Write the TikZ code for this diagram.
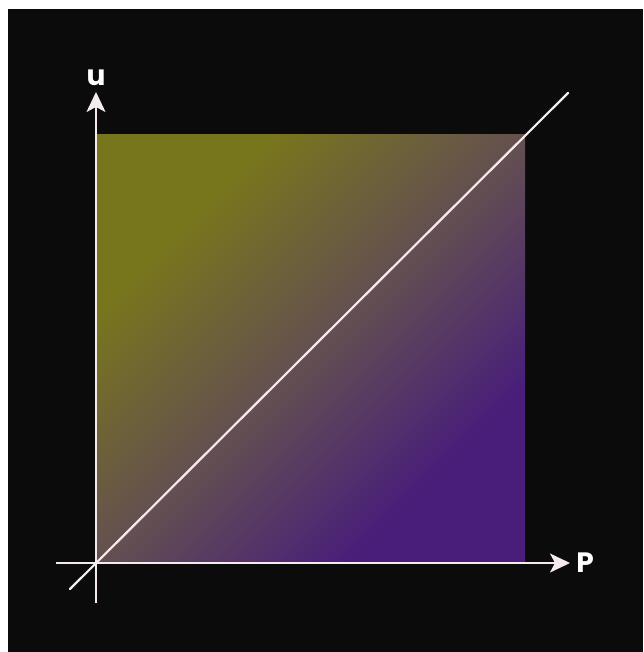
\documentclass[tikz,border=0pt]{standalone}
\usepackage{fontspec}
\setsansfont{Poppins}
\usetikzlibrary{arrows.meta,shadings}
\definecolor{bgdark}{HTML}{0B0B0B}
\definecolor{olivec}{RGB}{120,118,28}
\definecolor{purplec}{RGB}{72,30,122}
\definecolor{midc}{RGB}{100,80,80}
\definecolor{linec}{RGB}{245,235,238}
\pgfdeclarehorizontalshading{diaggrad}{100bp}{color(0bp)=(olivec); color(29bp)=(olivec); color(50bp)=(midc); color(71bp)=(purplec); color(100bp)=(purplec)}
\tikzset{
  axisline/.style={draw=linec, line width=2pt, -{Stealth[length=20pt,width=19pt,inset=5pt]}},
  plainline/.style={draw=linec, line width=2pt},
  axislabel/.style={text=white, font=\sffamily\bfseries\fontsize{28}{28}\selectfont, inner sep=0pt}
}
\begin{document}
\begin{tikzpicture}[x=1pt,y=-1pt]
\useasboundingbox (0,0) rectangle (643,652);
\fill[white] (0,0) rectangle (643,652);
\fill[bgdark] (8,9) rectangle (643,652);
% shaded square
\shade[shading=diaggrad, shading angle=-45] (96,135) rectangle (525,563);
% coordinates
\coordinate (o) at (96,563);
\coordinate (xs) at (56,563);
\coordinate (xe) at (570,563);
\coordinate (ys) at (96,603);
\coordinate (ye) at (96,92);
\coordinate (ds) at (70,589);
\coordinate (de) at (568,93);
% axes
\draw[axisline] (xs) -- (xe);
\draw[axisline] (ys) -- (ye);
% diagonal
\draw[plainline, line cap=round, line width=2.2pt] (ds) -- (de);
% labels
\node[axislabel] (ulab) at (96,78) {u};
\node[axislabel] (plab) at (585,563) {P};
\end{tikzpicture}
\end{document}
